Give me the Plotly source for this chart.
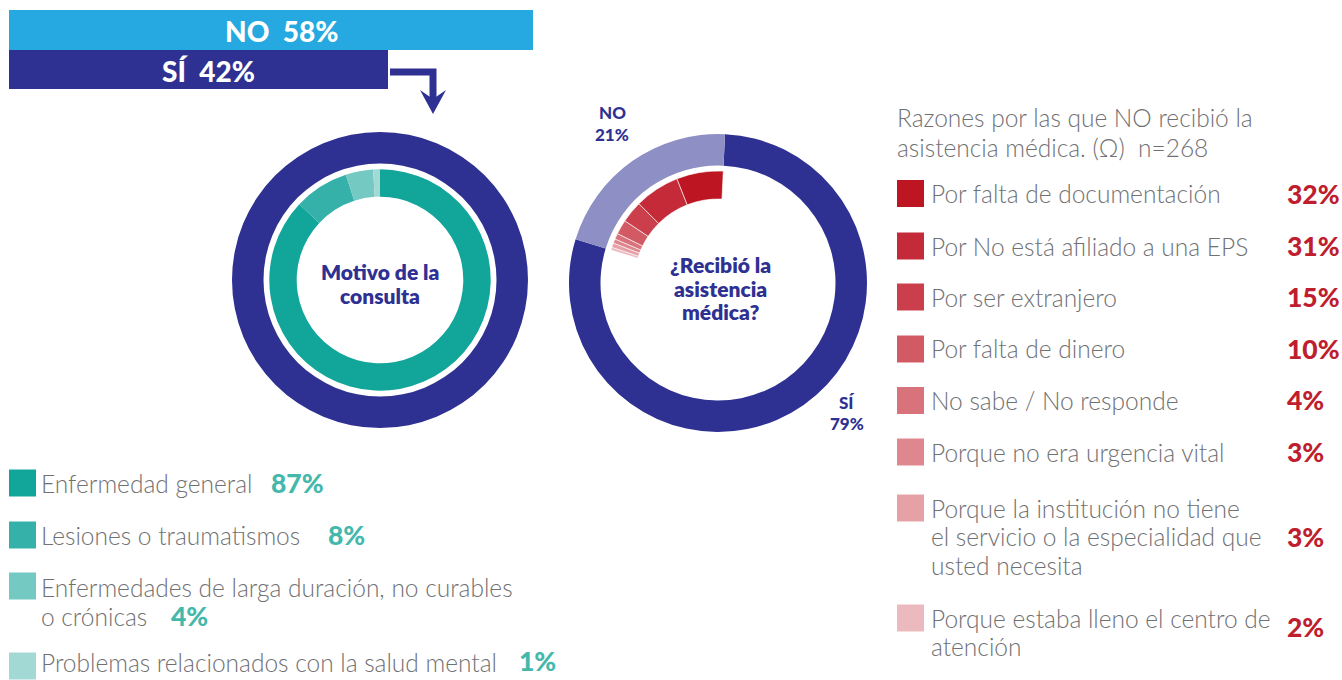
import plotly.graph_objects as go

W, H = 1342, 680

# ---------------- data ----------------
bar_labels = ["SÍ", "NO"]
bar_values = [42, 58]

motivo_labels = [
    "Enfermedad general",
    "Lesiones o traumatismos",
    "Enfermedades de larga duración, no curables<br>o crónicas",
    "Problemas relacionados con la salud mental",
]
motivo_values = [87, 8, 4, 1]
motivo_center = "Motivo de la<br>consulta"

recibio_labels = ["NO", "SÍ"]
recibio_values = [21, 79]
recibio_center = "¿Recibió la<br>asistencia<br>médica?"

razones_title = "Razones por las que NO recibió la<br>asistencia médica. (Ω)  n=268"
razon_labels = [
    "Por falta de documentación",
    "Por No está afiliado a una EPS",
    "Por ser extranjero",
    "Por falta de dinero",
    "No sabe / No responde",
    "Porque no era urgencia vital",
    "Porque la institución no tiene<br>el servicio o la especialidad que<br>usted necesita",
    "Porque estaba lleno el centro de<br>atención",
]
razon_values = [32, 31, 15, 10, 4, 3, 3, 2]

# ---------------- style ----------------
DARK = "#2E3192"
SKY = "#25A9E0"
LAV = "#8E8FC5"
GRAY = "#707173"
TEAL_TXT = "#45B8AC"
RED_TXT = "#BE1E2D"
teal_colors = ["#12A59A", "#35B1AA", "#74C9C2", "#A2D9D5"]
red_colors = ["#BD1622", "#C42A38", "#CA3F4B", "#D25A64",
              "#D9737B", "#DF878E", "#E6A1A7", "#ECBABE"]
FONT = "Lato"
LBL = 24.5     # label font size
NUM = 26.5     # number font size


def px(x):
    return x / W


def py(y):
    return 1 - y / H


def dom(cx, cy, r):
    return dict(x=[px(cx - r), px(cx + r)], y=[py(cy + r), py(cy - r)])


fig = go.Figure()

# top bars
fig.add_trace(go.Bar(
    orientation="h", x=bar_values, y=bar_labels,
    marker=dict(color=[DARK, SKY], line=dict(width=0)),
    hoverinfo="skip", showlegend=False,
))

# left donut: outer ring (SÍ 42%) and motive ring
L_CX, L_CY = 380, 280
fig.add_trace(go.Pie(
    values=[bar_values[0]], labels=[bar_labels[0]], hole=116.5 / 148,
    domain=dom(L_CX, L_CY, 148), marker=dict(colors=[DARK], line=dict(width=0)),
    textinfo="none", hoverinfo="skip", sort=False, showlegend=False,
))
fig.add_trace(go.Pie(
    values=motivo_values, labels=motivo_labels, hole=83.3 / 110.7,
    domain=dom(L_CX, L_CY, 110.7), direction="clockwise", rotation=0,
    marker=dict(colors=teal_colors, line=dict(width=0)),
    textinfo="none", hoverinfo="skip", sort=False, showlegend=False,
))

# right donut (drawn clockwise: SÍ first, then NO ending just past 12 o'clock)
R_CX, R_CY, ROT = 718, 283, 2.7
fig.add_trace(go.Pie(
    values=recibio_values[::-1], labels=recibio_labels[::-1], hole=117.5 / 149,
    domain=dom(R_CX, R_CY, 149), direction="clockwise", rotation=ROT,
    marker=dict(colors=[DARK, LAV], line=dict(width=0)),
    textinfo="none", hoverinfo="skip", sort=False, showlegend=False,
))
rest = sum(razon_values) * recibio_values[1] / recibio_values[0]
fig.add_trace(go.Pie(
    values=[rest] + razon_values[::-1], labels=["resto"] + razon_labels[::-1],
    hole=84 / 112,
    domain=dom(R_CX, R_CY, 112), direction="clockwise", rotation=ROT,
    marker=dict(colors=["rgba(0,0,0,0)"] + red_colors[::-1],
                line=dict(width=[0] + [0.6] * len(razon_values), color="white")),
    textinfo="none", hoverinfo="skip", sort=False, showlegend=False,
))

shapes = []
annotations = []

# arrow from SÍ bar
shapes.append(dict(type="path", xref="paper", yref="paper",
                   path=f"M {px(390)},{py(72)} L {px(433)},{py(72)} L {px(433)},{py(100)}",
                   line=dict(color=DARK, width=7)))
shapes.append(dict(type="path", xref="paper", yref="paper",
                   path=(f"M {px(420)},{py(90)} L {px(433)},{py(99)} L {px(446)},{py(90)} "
                         f"L {px(433)},{py(114)} Z"),
                   fillcolor=DARK, line=dict(width=0)))


def txt(x, y, text, size=LBL, color=GRAY, weight=300, xanchor="left"):
    annotations.append(dict(x=px(x), y=py(y), xref="paper", yref="paper", text=text,
                            showarrow=False, xanchor=xanchor, yanchor="middle",
                            align=xanchor if xanchor != "center" else "center",
                            font=dict(family=FONT, size=size, color=color, weight=weight)))


def txt_lines(x, y0, text, spacing, **kw):
    for k, line in enumerate(text.split("<br>")):
        txt(x, y0 + k * spacing, line, **kw)


def square(x, y, color, s=27):
    shapes.append(dict(type="rect", xref="paper", yref="paper",
                       x0=px(x), x1=px(x + s), y0=py(y + s / 2), y1=py(y - s / 2),
                       fillcolor=color, line=dict(width=0)))


# bar labels
txt(281, 31, f"{bar_labels[1]}\u00a0\u00a0{bar_values[1]}%", size=28, color="white",
    weight=900, xanchor="center")
txt(208, 71, f"{bar_labels[0]}\u00a0\u00a0{bar_values[0]}%", size=28, color="white",
    weight=900, xanchor="center")

# donut centre texts
txt_lines(L_CX, 271, motivo_center, 24, size=21, color=DARK, weight=800, xanchor="center")
txt_lines(720, 265, recibio_center, 23.5, size=21, color=DARK, weight=800, xanchor="center")
txt_lines(612, 113, f"{recibio_labels[0]}<br>{recibio_values[0]}%", 22, size=17,
          color=DARK, weight=900, xanchor="center")
txt_lines(847, 402, f"{recibio_labels[1]}<br>{recibio_values[1]}%", 21, size=17,
          color=DARK, weight=900, xanchor="center")

# left legend
left_rows = [483, 535, 586, 666]
left_text_y = [483, 535, 587, 662]
left_num_pos = [(269, 483), (326, 535), (169, 616), (517, 661)]
for i, lab in enumerate(motivo_labels):
    square(9, left_rows[i], teal_colors[i])
    txt_lines(39, left_text_y[i], lab, 29.5)
    nx, ny = left_num_pos[i]
    txt(nx, ny, f"{motivo_values[i]}%", size=NUM, color=TEAL_TXT, weight=900)

# right legend
txt_lines(895, 117, razones_title, 30)
right_rows = [193.5, 246, 297, 349, 400.5, 452, 508, 618]
right_num_y = [194, 246, 297, 349, 400, 452, 537, 627]
for i, lab in enumerate(razon_labels):
    square(897, right_rows[i], red_colors[i])
    txt_lines(929, right_rows[i], lab, 28.8)
    txt(1285, right_num_y[i], f"{razon_values[i]}%", size=NUM, color=RED_TXT, weight=900)

fig.update_layout(
    width=W, height=H, margin=dict(l=0, r=0, t=0, b=0),
    paper_bgcolor="white", plot_bgcolor="rgba(0,0,0,0)",
    bargap=0,
    xaxis=dict(domain=[px(9), px(533)], range=[0, 58], visible=False, fixedrange=True),
    yaxis=dict(domain=[py(89), py(10)], type="category", categoryorder="array",
               categoryarray=bar_labels, range=[-0.5, 1.5], visible=False, fixedrange=True),
    shapes=shapes, annotations=annotations, showlegend=False,
    font=dict(family=FONT),
)

fig.write_html("out.html", config=dict(displayModeBar=False),
               post_script="document.body.style.margin='0px';")
